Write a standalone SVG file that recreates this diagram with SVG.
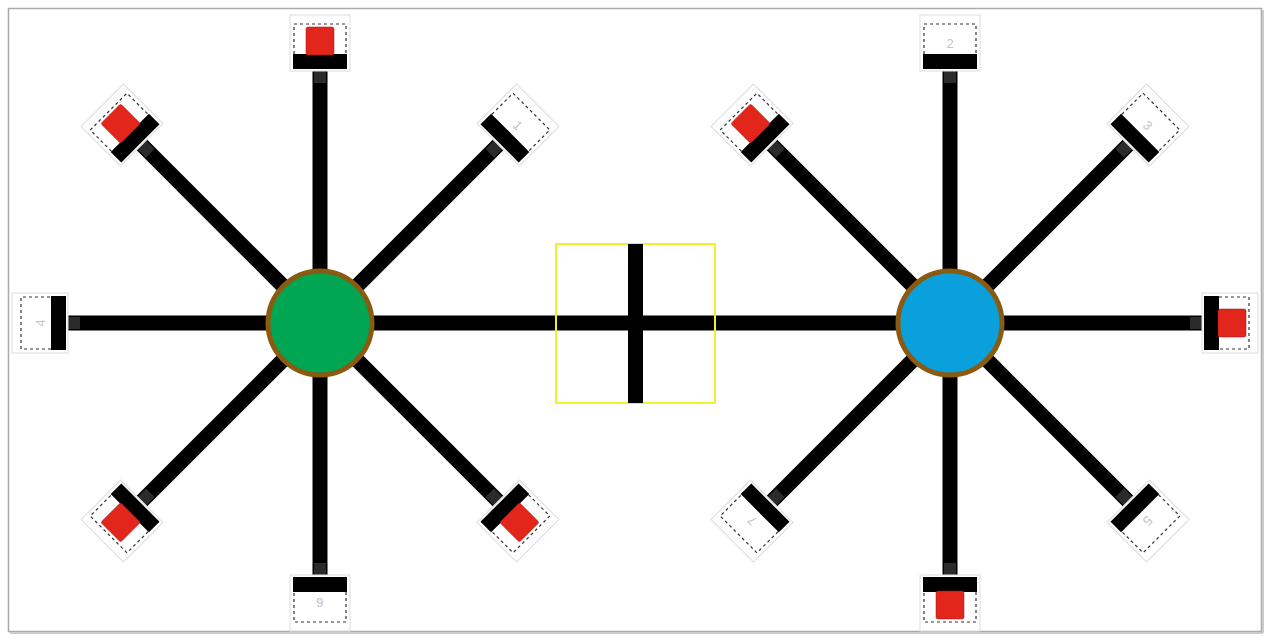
<svg xmlns="http://www.w3.org/2000/svg" xmlns:xlink="http://www.w3.org/1999/xlink" width="1271" height="640" viewBox="0 0 1271 640">
<style>
.spoke{stroke:#000;stroke-width:15;fill:none}
.bar{fill:#000}
.cap{fill:#555}
.outer{fill:#fff;stroke:#ddd;stroke-width:1}
.dash{fill:none;stroke:#333;stroke-width:1.2;stroke-dasharray:3 3}
.red{fill:#e3261c;stroke:#a01010;stroke-width:0.5}
.num{font-family:"Liberation Sans",Arial,sans-serif;font-size:13px;fill:#c4c4c4;text-anchor:middle}
.hub{stroke:#8a5a10;stroke-width:5}
</style>
<defs>
<g id="arm">
<line class="spoke" x1="0" y1="-50" x2="0" y2="-256"/>
<rect class="cap" x="-6" y="-252" width="12" height="12" opacity="0.5"/>
<rect class="outer" x="-30" y="-308" width="60" height="56"/>
<rect class="dash" x="-26" y="-299" width="52" height="38"/>
<rect class="bar" x="-27" y="-269" width="54" height="15"/>
</g>
<g id="redbox"><rect class="red" x="-14" y="-296" width="28" height="28" rx="2"/></g>
</defs>
<rect x="8.5" y="8.5" width="1253" height="623" fill="#fff" stroke="#aaa" stroke-width="1.5"/>
<line x1="1263" y1="10" x2="1263" y2="633" stroke="#ccc" stroke-width="2"/>
<line x1="10" y1="633" x2="1263" y2="633" stroke="#ccc" stroke-width="2"/>
<g id="connectors">
<line class="spoke" x1="370" y1="323" x2="900" y2="323"/>
</g>
<g id="switch">
<rect x="556" y="244" width="159" height="159" fill="none" stroke="#f0f030" stroke-width="2"/>
<rect class="bar" x="628" y="244" width="15" height="159"/>
</g>
<g id="left-arms" transform="translate(320,323)">
<g id="L0"><use xlink:href="#arm"/><use xlink:href="#redbox"/></g>
<g id="L45" transform="rotate(45)"><use xlink:href="#arm"/><text class="num" x="0" y="-275">1</text></g>
<g id="L135" transform="rotate(135)"><use xlink:href="#arm"/><use xlink:href="#redbox"/></g>
<g id="L180" transform="rotate(180)"><use xlink:href="#arm"/><text class="num" x="0" y="-275">6</text></g>
<g id="L225" transform="rotate(225)"><use xlink:href="#arm"/><use xlink:href="#redbox"/></g>
<g id="L270" transform="rotate(270)"><use xlink:href="#arm"/><text class="num" x="0" y="-275">4</text></g>
<g id="L315" transform="rotate(315)"><use xlink:href="#arm"/><use xlink:href="#redbox"/></g>
</g>
<g id="right-arms" transform="translate(950,323)">
<g id="R0"><use xlink:href="#arm"/><text class="num" x="0" y="-275">2</text></g>
<g id="R45" transform="rotate(45)"><use xlink:href="#arm"/><text class="num" x="0" y="-275">3</text></g>
<g id="R90" transform="rotate(90)"><use xlink:href="#arm"/><use xlink:href="#redbox"/></g>
<g id="R135" transform="rotate(135)"><use xlink:href="#arm"/><text class="num" x="0" y="-275">5</text></g>
<g id="R180" transform="rotate(180)"><use xlink:href="#arm"/><use xlink:href="#redbox"/></g>
<g id="R225" transform="rotate(225)"><use xlink:href="#arm"/><text class="num" x="0" y="-275">7</text></g>
<g id="R315" transform="rotate(315)"><use xlink:href="#arm"/><use xlink:href="#redbox"/></g>
</g>
<g id="hub-left"><circle class="hub" cx="320" cy="323" r="52" fill="#00a651"/></g>
<g id="hub-right"><circle class="hub" cx="950" cy="323" r="52" fill="#0aa0dc"/></g>
</svg>
